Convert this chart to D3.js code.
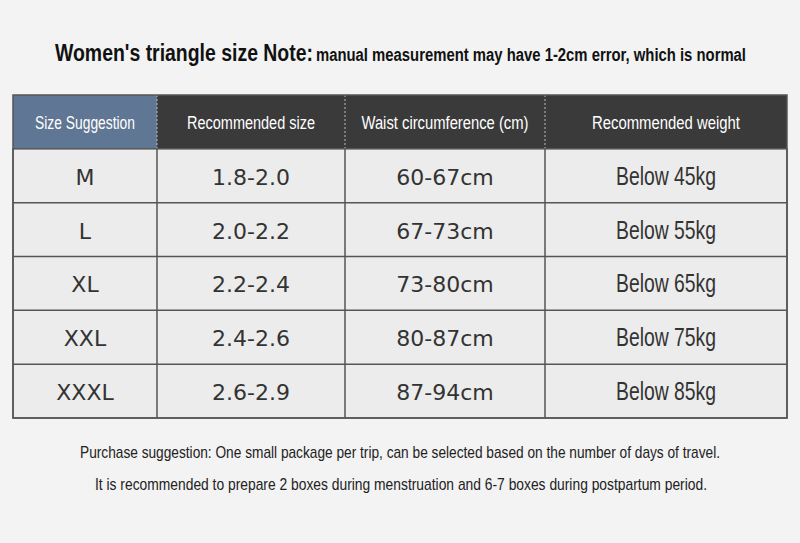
<!DOCTYPE html>
<html><head>
<script src="https://cdn.jsdelivr.net/npm/d3@7"></script>
<style>body{margin:0;background:#f3f3f3}</style>
</head><body>
<svg id="chart" width="800" height="543"></svg>
<script>
const headers = ['Size Suggestion', 'Recommended size', 'Waist circumference (cm)', 'Recommended weight'];
const headerWidths = [100, 128, 167, 148];
const sizes = ['M', 'L', 'XL', 'XXL', 'XXXL'];
const ranges = ['1.8-2.0', '2.0-2.2', '2.2-2.4', '2.4-2.6', '2.6-2.9'];
const waists = ['60-67cm', '67-73cm', '73-80cm', '80-87cm', '87-94cm'];
const weights = ['Below 45kg', 'Below 55kg', 'Below 65kg', 'Below 75kg', 'Below 85kg'];
const colEdges = [13, 157, 345, 545, 787];
const font = '"Liberation Sans",Arial,sans-serif';

const svg = d3.select('#chart');
svg.append('rect').attr('width', 800).attr('height', 543).attr('fill', '#f3f3f3');

function fit(sel, w) { return sel.attr('textLength', w).attr('lengthAdjust', 'spacingAndGlyphs'); }

fit(svg.append('text').attr('x', 55).attr('y', 61).attr('font-family', font).attr('font-size', 23)
  .attr('font-weight', 'bold').attr('fill', '#111').text("Women's triangle size Note:"), 258);
fit(svg.append('text').attr('x', 316).attr('y', 61).attr('font-family', font).attr('font-size', 18)
  .attr('font-weight', 'bold').attr('fill', '#111').text('manual measurement may have 1-2cm error, which is normal'), 430);

const y = d3.scaleBand().domain(d3.range(6)).range([95, 418]);
const rows = sizes.map((s, i) => [s, ranges[i], waists[i], weights[i]]);

headers.forEach((h, c) => {
  const x0 = colEdges[c], x1 = colEdges[c + 1];
  svg.append('rect').attr('x', x0).attr('y', y(0)).attr('width', x1 - x0).attr('height', y.bandwidth() + 2)
    .attr('fill', c === 0 ? '#5f7694' : '#3a3a3a');
  fit(svg.append('text').attr('x', (x0 + x1) / 2 - headerWidths[c] / 2).attr('y', y(0) + y.bandwidth() / 2 + 7)
    .attr('font-family', font).attr('font-size', 18)
    .attr('fill', '#fff').text(h), headerWidths[c]);
});
colEdges.slice(1, 4).forEach(x => svg.append('line').attr('x1', x).attr('x2', x)
  .attr('y1', y(0)).attr('y2', y(1)).attr('stroke', '#bbb').attr('stroke-dasharray', '2,2'));

svg.append('rect').attr('x', colEdges[0]).attr('y', y(1)).attr('width', colEdges[4] - colEdges[0])
  .attr('height', 418 - y(1)).attr('fill', '#ececec').attr('stroke', '#555').attr('stroke-width', 1.5);
rows.forEach((r, i) => {
  const yy = y(i + 1);
  if (i > 0) svg.append('line').attr('x1', colEdges[0]).attr('x2', colEdges[4]).attr('y1', yy).attr('y2', yy)
    .attr('stroke', '#555').attr('stroke-width', 1.5);
  r.forEach((v, c) => {
    const cx = (colEdges[c] + colEdges[c + 1]) / 2;
    const t = svg.append('text').attr('y', yy + y.bandwidth() / 2 + 9).attr('fill', '#333')
      .attr('font-family', c === 3 ? font : '"DejaVu Sans",sans-serif')
      .attr('font-size', c === 3 ? 26 : 22).text(v);
    if (c === 3) fit(t.attr('x', cx - 50), 100);
    else t.attr('x', cx).attr('text-anchor', 'middle');
  });
});
colEdges.slice(1, 4).forEach(x => svg.append('line').attr('x1', x).attr('x2', x)
  .attr('y1', y(1)).attr('y2', 418).attr('stroke', '#555').attr('stroke-width', 1.5));
svg.append('rect').attr('x', colEdges[0]).attr('y', y(0)).attr('width', colEdges[4] - colEdges[0])
  .attr('height', 418 - y(0)).attr('fill', 'none').attr('stroke', '#555').attr('stroke-width', 1.5);

const notes = ['Purchase suggestion: One small package per trip, can be selected based on the number of days of travel.',
  'It is recommended to prepare 2 boxes during menstruation and 6-7 boxes during postpartum period.'];
const noteX = [80, 95], noteW = [640, 612];
notes.forEach((n, i) => fit(svg.append('text').attr('x', noteX[i]).attr('y', 458 + i * 32)
  .attr('font-family', font).attr('font-size', 17).attr('fill', '#222').text(n), noteW[i]));
</script>
</body></html>
